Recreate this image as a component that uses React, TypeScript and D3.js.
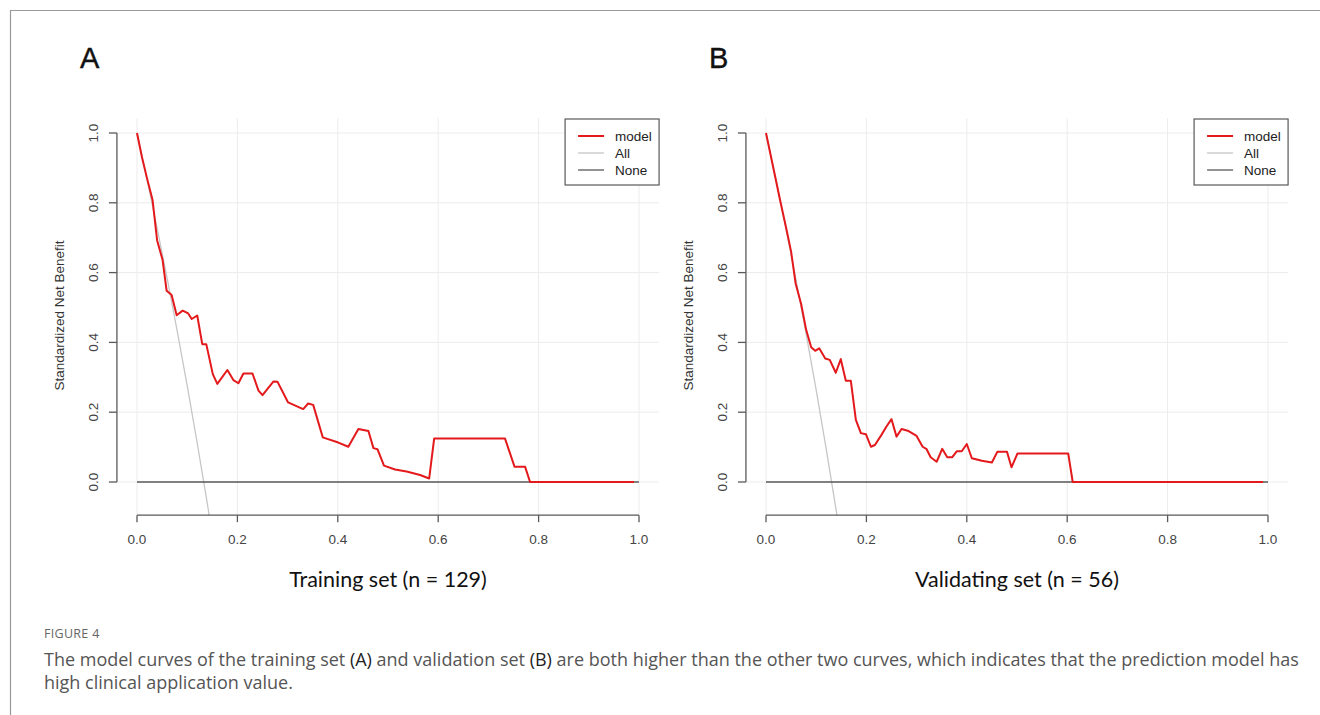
import React from 'react';
import * as d3 from 'd3';

// threshold probability vs standardized net benefit
const trainT = [0, 0.01, 0.02, 0.031, 0.04, 0.051, 0.059, 0.069, 0.079, 0.091, 0.102, 0.109, 0.12, 0.13, 0.138, 0.151, 0.16, 0.18, 0.192, 0.202, 0.212, 0.23, 0.242, 0.25, 0.272, 0.28, 0.301, 0.331, 0.341, 0.351, 0.37, 0.401, 0.421, 0.441, 0.461, 0.471, 0.479, 0.492, 0.514, 0.537, 0.564, 0.582, 0.592, 0.733, 0.752, 0.773, 0.783, 0.99];
const trainNB = [1.0, 0.93, 0.87, 0.808, 0.693, 0.636, 0.548, 0.536, 0.478, 0.491, 0.483, 0.467, 0.477, 0.395, 0.395, 0.309, 0.281, 0.321, 0.292, 0.283, 0.311, 0.311, 0.262, 0.249, 0.288, 0.287, 0.228, 0.209, 0.225, 0.221, 0.128, 0.113, 0.101, 0.152, 0.146, 0.097, 0.094, 0.047, 0.036, 0.03, 0.02, 0.01, 0.125, 0.125, 0.044, 0.044, 0, 0];

const validT = [0, 0.028, 0.041, 0.05, 0.059, 0.07, 0.08, 0.09, 0.098, 0.106, 0.118, 0.127, 0.139, 0.149, 0.159, 0.169, 0.179, 0.189, 0.199, 0.209, 0.217, 0.23, 0.24, 0.25, 0.26, 0.27, 0.284, 0.3, 0.312, 0.32, 0.328, 0.34, 0.351, 0.361, 0.371, 0.38, 0.39, 0.4, 0.41, 0.43, 0.45, 0.461, 0.48, 0.489, 0.501, 0.602, 0.611, 0.99];
const validNB = [1.0, 0.808, 0.722, 0.66, 0.569, 0.51, 0.436, 0.386, 0.376, 0.383, 0.354, 0.35, 0.313, 0.352, 0.29, 0.29, 0.178, 0.14, 0.137, 0.101, 0.106, 0.135, 0.159, 0.18, 0.13, 0.152, 0.146, 0.132, 0.101, 0.094, 0.071, 0.058, 0.095, 0.071, 0.071, 0.088, 0.088, 0.109, 0.068, 0.061, 0.056, 0.087, 0.087, 0.042, 0.082, 0.082, 0, 0];

// "All" (treat everyone) curves
const allT = [0, 0.02, 0.04, 0.06, 0.08, 0.1, 0.12, 0.14, 0.16];
const trainAll = [1.0, 0.867, 0.728, 0.584, 0.433, 0.276, 0.111, -0.061, -0.242];
const validAll = [1.0, 0.866, 0.725, 0.578, 0.424, 0.263, 0.094, -0.083, -0.269];

const ticks = [0, 0.2, 0.4, 0.6, 0.8, 1.0];
const legendLabels = ['model', 'All', 'None'];

const RED = '#e3191c';
const AXIS = '#595959';
const GRID = '#ececec';
const ALLC = '#c6c6c6';
const R_FONT = '"Liberation Sans", Arial, sans-serif';
const PUB_FONT = 'Lato, "Open Sans", sans-serif';
const CAP_FONT = '"Open Sans", Lato, sans-serif';

const Panel = ({ id, letter, ox, t, nb, allNB, title }) => {
  const x = d3.scaleLinear().domain([0, 1]).range([ox, ox + 502]);
  const y = d3.scaleLinear().domain([0, 1]).range([482, 133]);
  const left = x(-0.04);
  const right = x(1.04);
  const top = y(1.042);
  const bottom = y(-0.095);

  const line = d3.line<number>().x((_, i) => x(t[i])).y(d => y(d));
  const allLine = d3.line<number>().x((_, i) => x(allT[i])).y(d => y(d));

  const legX = right - 94;
  const legY = 119;

  return (
    <g>
      <defs>
        <clipPath id={`clip-${id}`}>
          <rect x={left} y={top} width={right - left} height={bottom - top} />
        </clipPath>
      </defs>
      <text x={ox - 57} y={68} fontFamily={R_FONT} fontSize={29} fill="#111" stroke="#111" strokeWidth={0.4}>{letter}</text>

      {/* grid */}
      {ticks.map(v => (
        <line key={'gx' + v} x1={x(v)} x2={x(v)} y1={top} y2={bottom} stroke={GRID} strokeWidth={1} />
      ))}
      {ticks.map(v => (
        <line key={'gy' + v} x1={left} x2={right} y1={y(v)} y2={y(v)} stroke={GRID} strokeWidth={1} />
      ))}

      <g clipPath={`url(#clip-${id})`}>
        <path d={allLine(allNB)} fill="none" stroke={ALLC} strokeWidth={1.3} />
        <line x1={x(0)} x2={x(1)} y1={y(0)} y2={y(0)} stroke={AXIS} strokeWidth={1.4} />
        <path d={line(nb)} fill="none" stroke={RED} strokeWidth={2} strokeLinejoin="round" />
      </g>

      {/* y axis */}
      <line x1={left} x2={left} y1={y(0)} y2={y(1)} stroke={AXIS} strokeWidth={1.3} />
      {ticks.map(v => (
        <g key={'yt' + v}>
          <line x1={left - 8} x2={left} y1={y(v)} y2={y(v)} stroke={AXIS} strokeWidth={1.3} />
          <text transform={`translate(${left - 19},${y(v)}) rotate(-90)`} textAnchor="middle"
            fontFamily={R_FONT} fontSize={13.5} fill="#444">{v.toFixed(1)}</text>
        </g>
      ))}
      <text transform={`translate(${left - 53},${(y(0) + y(1)) / 2 + 8}) rotate(-90)`} textAnchor="middle"
        fontFamily={R_FONT} fontSize={13.5} fill="#333">Standardized Net Benefit</text>

      {/* x axis */}
      <line x1={x(0)} x2={x(1)} y1={bottom} y2={bottom} stroke={AXIS} strokeWidth={1.3} />
      {ticks.map(v => (
        <g key={'xt' + v}>
          <line x1={x(v)} x2={x(v)} y1={bottom} y2={bottom + 7} stroke={AXIS} strokeWidth={1.3} />
          <text x={x(v)} y={544} textAnchor="middle" fontFamily={R_FONT} fontSize={13.5} fill="#444">{v.toFixed(1)}</text>
        </g>
      ))}
      <text x={x(0.5)} y={587} textAnchor="middle" fontFamily={PUB_FONT} fontSize={21.5} fill="#111">{title}</text>

      {/* legend */}
      <rect x={legX} y={legY} width={94} height={66} fill="#fff" stroke={AXIS} strokeWidth={1.2} />
      {legendLabels.map((lab, i) => (
        <g key={lab}>
          <line x1={legX + 13} x2={legX + 39} y1={legY + 17 + i * 17} y2={legY + 17 + i * 17}
            stroke={i === 0 ? RED : i === 1 ? ALLC : AXIS} strokeWidth={i === 0 ? 2 : 1.3} />
          <text x={legX + 50} y={legY + 22 + i * 17} fontFamily={R_FONT} fontSize={13.5} fill="#222">{lab}</text>
        </g>
      ))}
    </g>
  );
};

export default function App() {
  return (
    <svg width={1320} height={715} style={{ position: 'absolute', left: 0, top: 0, background: '#fff' }}>
      <rect x={0} y={0} width={1320} height={715} fill="#fff" />
      <line x1={10} x2={1320} y1={10.5} y2={10.5} stroke="#9a9a9a" strokeWidth={1.2} />
      <line x1={10.5} x2={10.5} y1={10} y2={715} stroke="#9a9a9a" strokeWidth={1.2} />

      <Panel id="a" letter="A" ox={137} t={trainT} nb={trainNB} allNB={trainAll} title="Training set (n = 129)" />
      <Panel id="b" letter="B" ox={766} t={validT} nb={validNB} allNB={validAll} title="Validating set (n = 56)" />

      <text x={44} y={638} fontFamily={CAP_FONT} fontSize={12.5} fill="#666" letterSpacing={0.3}>FIGURE 4</text>
      <text x={44} y={666} fontFamily={CAP_FONT} fontSize={18} fill="#555">
        The model curves of the training set <tspan fill="#222">(A)</tspan> and validation set <tspan fill="#222">(B)</tspan> are both higher than the other two curves, which indicates that the prediction model has
      </text>
      <text x={44} y={689} fontFamily={CAP_FONT} fontSize={18} fill="#555">high clinical application value.</text>
    </svg>
  );
}
